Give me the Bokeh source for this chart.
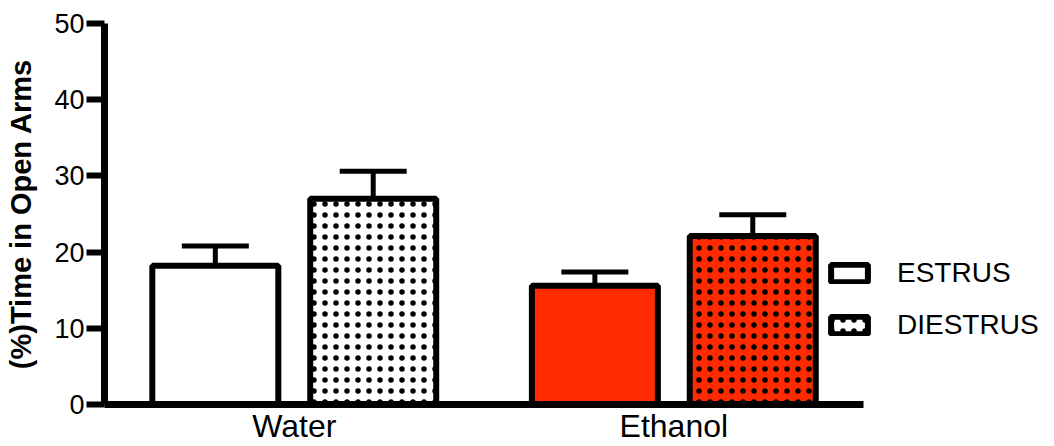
from bokeh.plotting import figure
from bokeh.models import (ColumnDataSource, Range1d, Whisker, TeeHead,
                          Legend, LegendItem, FixedTicker)
from bokeh.embed import file_html
from bokeh.resources import INLINE

# ---- data ----
groups = ["Water", "Ethanol"]
series = ["ESTRUS", "DIESTRUS"]
estrus = [18.2, 15.6]
estrus_sem = [2.6, 1.8]
diestrus = [27.0, 22.1]
diestrus_sem = [3.6, 2.8]
y_ticks = [0, 10, 20, 30, 40, 50]
y_label = "(%)Time in Open Arms"

FONT = "Liberation Sans"
RED = "#ff2a00"
group_fill = {"Water": "white", "Ethanol": RED}

OFF = 0.208   # half distance between paired bars (category units)
BW = 0.332    # bar width (category units)

centers = [i + 0.5 for i in range(len(groups))]
src = ColumnDataSource(dict(
    group=groups,
    xe=[c - OFF for c in centers],
    xd=[c + OFF for c in centers],
    fill=[group_fill[g] for g in groups],
    estrus=estrus,
    estrus_up=[v + e for v, e in zip(estrus, estrus_sem)],
    diestrus=diestrus,
    diestrus_up=[v + e for v, e in zip(diestrus, diestrus_sem)],
))

p = figure(width=1054, height=446,
           x_range=Range1d(0, 2.503),
           y_range=Range1d(0, 50),
           output_backend="svg", toolbar_location=None,
           min_border_left=104, min_border_right=0,
           min_border_top=23, min_border_bottom=38)

p.outline_line_color = None
p.xgrid.visible = False
p.ygrid.visible = False
p.background_fill_color = "white"

r1 = p.vbar(x="xe", top="estrus", bottom=0, width=BW, source=src,
            fill_color="fill", line_color="black", line_width=6)
r2 = p.vbar(x="xd", top="diestrus", bottom=0, width=BW, source=src,
            fill_color="fill", line_color="black", line_width=6,
            hatch_pattern="dot", hatch_color="black", hatch_scale=11, hatch_weight=3)

for base, lo, hi in [("xe", "estrus", "estrus_up"), ("xd", "diestrus", "diestrus_up")]:
    w = Whisker(base=base, lower=lo, upper=hi, source=src,
                line_color="black", line_width=5,
                upper_head=TeeHead(size=67, line_width=5, line_color="black"),
                lower_head=None, level="glyph")
    p.add_layout(w)

# x axis: category labels at group centres, line limited to the data span
xa = p.xaxis[0]
xa.ticker = FixedTicker(ticks=centers)
xa.major_label_overrides = {c: g for c, g in zip(centers, groups)}
xa.bounds = (0, len(groups))
xa.axis_line_width = 7
xa.axis_line_color = "black"
xa.major_tick_line_color = None
xa.major_tick_out = 0
xa.major_tick_in = 0
xa.minor_tick_line_color = None
xa.major_label_text_font = FONT
xa.major_label_text_font_size = "32px"
xa.major_label_text_color = "black"
xa.major_label_standoff = 3

ya = p.yaxis[0]
ya.ticker = FixedTicker(ticks=y_ticks)
ya.axis_line_width = 7
ya.axis_line_color = "black"
ya.major_tick_line_width = 6
ya.major_tick_line_color = "black"
ya.major_tick_out = 18
ya.major_tick_in = 0
ya.minor_tick_line_color = None
ya.major_label_text_font = FONT
ya.major_label_text_font_size = "27px"
ya.major_label_text_color = "black"
ya.major_label_standoff = 2
ya.axis_label = y_label
ya.axis_label_text_font = FONT
ya.axis_label_text_font_style = "bold"
ya.axis_label_text_font_size = "29px"
ya.axis_label_text_color = "black"
ya.axis_label_standoff = 14

legend = Legend(items=[LegendItem(label=series[0], renderers=[r1]),
                       LegendItem(label=series[1], renderers=[r2])],
                location=(722, 63), orientation="vertical",
                glyph_width=46, glyph_height=22, label_height=30,
                spacing=20, label_standoff=25, padding=0, margin=0,
                border_line_color=None, background_fill_alpha=0,
                label_text_font=FONT, label_text_font_size="28px",
                label_text_color="black")
p.add_layout(legend)

open("out.html", "w").write(file_html(p, INLINE))
